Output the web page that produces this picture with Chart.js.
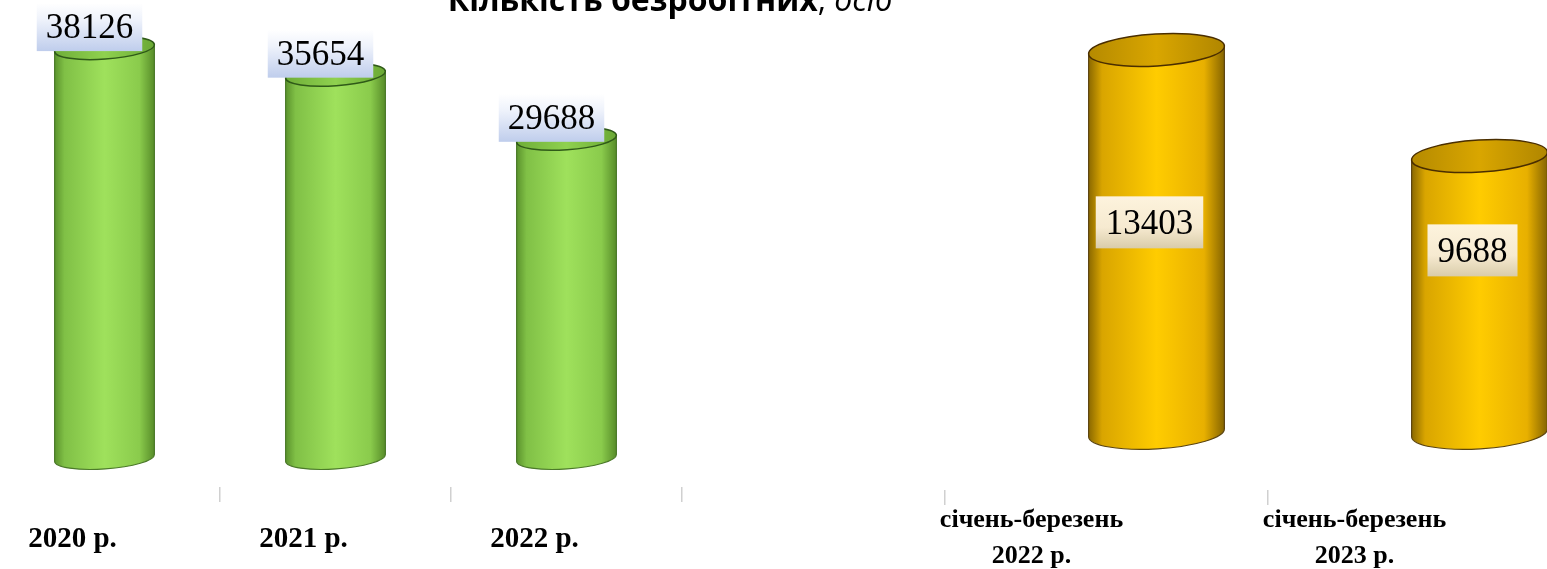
<!DOCTYPE html>
<html>
<head>
<meta charset="utf-8">
<script src="https://cdn.jsdelivr.net/npm/chart.js@4/dist/chart.umd.min.js"></script>
<style>
html,body{margin:0;padding:0;background:#fff;}
#wrap{position:relative;width:1547px;height:569px;overflow:hidden;background:#fff;}
#c1box{position:absolute;left:-11px;top:0;width:811px;height:569px;}
#c2box{position:absolute;left:800px;top:0;width:800px;height:569px;}
#title{position:absolute;top:-17px;left:370px;width:600px;text-align:center;font-family:'Open Sans',sans-serif;font-size:32px;line-height:32px;color:#000;white-space:nowrap;}
#title b{font-weight:700;}
#title i{font-weight:400;font-style:italic;}
</style>
</head>
<body>
<div id="wrap">
  <div id="c1box"><canvas id="c1"></canvas></div>
  <div id="c2box"><canvas id="c2"></canvas></div>
  <div id="title"><b>Кількість безробітних</b>, <i>осіб</i></div>
</div>
<script>
// ---- data ----
const yearLabels = ['2020 р.', '2021 р.', '2022 р.'];
const yearValues = [38126, 35654, 29688];
const quarterLabels = [['січень-березень', '2022 р.'], ['січень-березень', '2023 р.']];
const quarterValues = [13403, 9688];

// ---- 3D cylinder + label drawing plugin ----
const cylinderPlugin = {
  id: 'cylinders',
  afterDatasetsDraw(chart, args, o) {
    const ctx = chart.ctx;
    const meta = chart.getDatasetMeta(0);
    const values = chart.data.datasets[0].data;
    const area = chart.chartArea;
    meta.data.forEach((bar, i) => {
      const cx = bar.x + o.shift;
      const top = bar.y, base = bar.base;
      const rx = o.rx, ry = o.ry, t = o.tilt;
      const ct = Math.cos(t), st = Math.sin(t);
      ctx.save();
      // body
      const g = ctx.createLinearGradient(cx - rx, 0, cx + rx, 0);
      o.body.forEach(s => g.addColorStop(s[0], s[1]));
      ctx.beginPath();
      ctx.moveTo(cx - rx * ct, top - rx * st);
      ctx.lineTo(cx - rx * ct, base - rx * st);
      ctx.ellipse(cx, base, rx, ry, t, Math.PI, 0, true);
      ctx.lineTo(cx + rx * ct, top + rx * st);
      ctx.ellipse(cx, top, rx, ry, t, 0, -Math.PI, true);
      ctx.closePath();
      ctx.fillStyle = g;
      ctx.fill();
      // outline sides + bottom
      ctx.beginPath();
      ctx.moveTo(cx - rx * ct, top - rx * st);
      ctx.lineTo(cx - rx * ct, base - rx * st);
      ctx.ellipse(cx, base, rx, ry, t, Math.PI, 0, true);
      ctx.lineTo(cx + rx * ct, top + rx * st);
      ctx.strokeStyle = o.side;
      ctx.lineWidth = 1.2;
      ctx.stroke();
      // cap
      const gc = ctx.createLinearGradient(cx - rx, 0, cx + rx, 0);
      o.cap.forEach(s => gc.addColorStop(s[0], s[1]));
      ctx.beginPath();
      ctx.ellipse(cx, top, rx, ry, t, 0, Math.PI * 2);
      ctx.fillStyle = gc;
      ctx.fill();
      ctx.strokeStyle = o.rim;
      ctx.lineWidth = 1.5;
      ctx.stroke();
      ctx.restore();

      // value label box
      const txt = String(values[i]);
      ctx.save();
      ctx.font = o.labelFont;
      const tw = ctx.measureText(txt).width;
      const bw = tw + o.boxPad * 2, bh = o.boxH;
      const bx = cx + o.boxDx - bw / 2;
      let by;
      if (o.inside) {
        const anchor = area.top + area.height * o.anchorFrac;
        by = top + (anchor - top) * o.insideFrac - bh / 2;
      } else {
        by = top + o.boxBottom - bh;
      }
      const gb = ctx.createLinearGradient(0, by, 0, by + bh);
      o.boxGrad.forEach(s => gb.addColorStop(s[0], s[1]));
      ctx.fillStyle = gb;
      ctx.fillRect(bx, by, bw, bh);
      ctx.fillStyle = '#000';
      ctx.textAlign = 'center';
      ctx.textBaseline = 'middle';
      ctx.fillText(txt, bx + bw / 2, by + bh / 2 + 2);
      ctx.restore();
    });
  }
};

function makeChart(id, labels, values, cfg) {
  return new Chart(document.getElementById(id), {
    type: 'bar',
    data: {
      labels: labels,
      datasets: [{ data: values, backgroundColor: 'rgba(0,0,0,0)', borderWidth: 0, barThickness: cfg.cyl.rx * 2 }]
    },
    plugins: [cylinderPlugin],
    options: {
      responsive: true,
      maintainAspectRatio: false,
      animation: false,
      events: [],
      layout: { padding: { top: 0, left: cfg.padLeft, right: cfg.padRight, bottom: 0 } },
      plugins: { legend: { display: false }, tooltip: { enabled: false }, title: { display: false }, cylinders: cfg.cyl },
      scales: {
        x: {
          offset: true,
          grid: { offset: true, drawOnChartArea: false, tickLength: 15, color: '#d0d0d0', lineWidth: 1.5 },
          border: { display: false },
          ticks: {
            labelOffset: cfg.labelOffset,
            padding: cfg.tickPad,
            color: '#000',
            autoSkip: false,
            maxRotation: 0,
            font: { family: "'Liberation Serif','Times New Roman',serif", size: cfg.fontSize, weight: 'bold', lineHeight: cfg.lineHeight }
          },
          afterFit: s => { s.height = cfg.xHeight; }
        },
        y: { display: false, min: cfg.min, max: cfg.max }
      }
    }
  });
}

makeChart('c1', yearLabels, yearValues, {
  padLeft: 0, padRight: 118, labelOffset: -32, tickPad: 21, fontSize: 29, lineHeight: '34px', xHeight: 82,
  min: -2700, max: 42600,
  cyl: {
    shift: 0, rx: 50, ry: 11, tilt: -0.07,
    body: [[0, '#5a922c'], [0.1, '#80c046'], [0.5, '#9fe15c'], [0.85, '#8acb4c'], [1, '#578c29']],
    cap: [[0, '#6fae38'], [0.5, '#8fd14f'], [1, '#6aa834']],
    side: '#4c7a2a', rim: '#2f5a18',
    labelFont: "35px 'Liberation Serif','Times New Roman',serif",
    boxPad: 9, boxH: 48, boxDx: -15, boxBottom: 3, inside: false,
    boxGrad: [[0, '#ffffff'], [0.35, '#eef2fb'], [1, '#bfcdec']]
  }
});

makeChart('c2', quarterLabels, quarterValues, {
  padLeft: 145, padRight: 9, labelOffset: -75, tickPad: -3, fontSize: 26, lineHeight: '36px', xHeight: 79,
  min: -2000, max: 15150,
  cyl: {
    shift: 50, rx: 68, ry: 16, tilt: -0.06,
    body: [[0, '#8a6800'], [0.1, '#d9a500'], [0.5, '#ffcc00'], [0.85, '#e8b000'], [1, '#856400']],
    cap: [[0, '#b58a00'], [0.5, '#d9a600'], [1, '#b08600']],
    side: '#5c4510', rim: '#4a2e00',
    labelFont: "35px 'Liberation Serif','Times New Roman',serif",
    boxPad: 10, boxH: 52, boxDx: -7, inside: true, anchorFrac: 0.58, insideFrac: 0.736,
    boxGrad: [[0, '#fdf3dd'], [0.6, '#f6ead0'], [1, '#d9ccaa']]
  }
});
</script>
</body>
</html>
